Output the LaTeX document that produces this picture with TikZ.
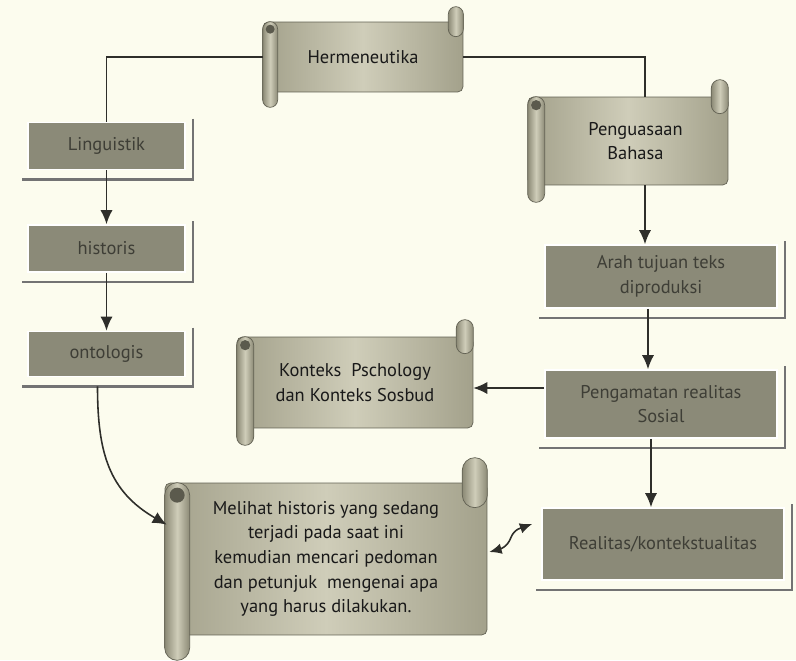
\documentclass[tikz,border=0pt]{standalone}
\usepackage{fontspec}
\setmainfont{PT Sans}
\usetikzlibrary{calc,arrows.meta}

\definecolor{bgcol}{HTML}{FCFCEE}
\definecolor{boxgray}{HTML}{8B8A78}
\definecolor{boxtext}{HTML}{3E3E36}
\definecolor{scrollmid}{HTML}{CFCDB9}
\definecolor{scrolledge}{HTML}{A3A18B}
\definecolor{rollcol}{HTML}{8C8A76}
\definecolor{linecol}{HTML}{2E2E2A}

\tikzset{
  boxnode/.style={rectangle, fill=boxgray, draw=white, line width=1pt, text=boxtext,
    align=center, font=\fontsize{10.5}{14}\selectfont},
  scrollnode/.style={rectangle, rounded corners=3pt, draw=scrolledge!60!black,
    left color=scrolledge, right color=scrolledge, middle color=scrollmid,
    text=black!90, align=center, font=\fontsize{10.5}{14}\selectfont},
  rollfill/.style={draw=scrolledge!60!black, left color=rollcol,
    right color=rollcol, middle color=scrollmid},
  shadeline/.style={draw=black!55, line width=1.3pt},
  conn/.style={linecol, line width=0.9pt},
  arr/.style={conn, -{Latex[length=8pt,width=7pt]}},
  dblarr/.style={conn, {Latex[length=7pt,width=6pt]}-{Latex[length=7pt,width=6pt]}}
}

% rolled ends of a scroll node: #1 node name, #2 roll width
\newcommand{\scrollrolls}[2]{%
  \path[rollfill, rounded corners={#2*0.01cm}] ($(#1.north east)+(-#2,-#2)$) rectangle ($(#1.north east)+(0,#2)$);
  \path[rollfill, rounded corners={#2*0.01cm}] (#1.north west) rectangle ($(#1.south west)+(#2,#2)$);
  \fill[rollcol!65!black] ($(#1.north west)+(#2/2,#2/2)$) circle ({#2*0.006cm});
}
% shadow frame of a box node
\newcommand{\boxshade}[1]{%
  \draw[shadeline] ($(#1.north east)+(7,-3)$) |- ($(#1.south west)+(-5,9)$);
}

\begin{document}
\begin{tikzpicture}[x=0.02cm,y=-0.02cm]
  \fill[bgcol] (0,0) rectangle (796,660);

  % scrolls
  \node[scrollnode, minimum width=4cm, minimum height=1.4cm] (herm) at (363,57) {Hermeneutika};
  \scrollrolls{herm}{15}
  \node[scrollnode, minimum width=4cm, minimum height=1.76cm] (pengua) at (628,141) {\hspace{0.3cm}Penguasaan\\\hspace{0.3cm}Bahasa};
  \scrollrolls{pengua}{17}
  \node[scrollnode, minimum width=4.72cm, minimum height=1.82cm] (kont) at (355,382.5) {Konteks\ \ Pschology\\dan Konteks Sosbud};
  \scrollrolls{kont}{17}
  \node[scrollnode, minimum width=6.44cm, minimum height=3.04cm] (meli) at (326,559)
    {Melihat historis yang sedang\\terjadi pada saat ini\\kemudian mencari pedoman\\dan petunjuk\ \ mengenai apa\\yang harus dilakukan.};
  \scrollrolls{meli}{25}

  % boxes
  \node[boxnode, minimum width=3.14cm, minimum height=0.94cm] (ling) at (106.5,146) {Linguistik};
  \node[boxnode, minimum width=3.14cm, minimum height=0.94cm] (hist) at (106.5,248.5) {historis};
  \node[boxnode, minimum width=3.14cm, minimum height=0.9cm] (onto) at (106.5,354) {ontologis};
  \node[boxnode, minimum width=4.64cm, minimum height=1.26cm] (arah) at (661,276.5) {Arah tujuan teks\\diproduksi};
  \node[boxnode, minimum width=4.64cm, minimum height=1.36cm] (peng) at (661,404) {Pengamatan realitas\\Sosial};
  \node[boxnode, minimum width=4.84cm, minimum height=1.44cm] (real) at (663,544) {Realitas/kontekstualitas};
  \boxshade{ling}
  \boxshade{hist}
  \boxshade{onto}
  \boxshade{arah}
  \boxshade{peng}
  \boxshade{real}

  % connectors
  \draw[conn] (herm.west) -| (ling.north);
  \draw[conn] (herm.east) -| ([xshift=0.34cm]pengua.north);
  \draw[arr] (ling) -- (hist);
  \draw[arr] (hist) -- (onto);
  \draw[arr] ($(onto.south)+(-9,9)$) to[out=-90, in=150, looseness=1.1] ($(meli.north west)+(2,42)$);
  \draw[arr] ([xshift=0.34cm]pengua.south) -- ([xshift=0.34cm]pengua.south |- arah.north);
  \draw[arr] ([xshift=-0.26cm]arah.south) -- ([xshift=-0.26cm]arah.south |- peng.north);
  \draw[arr] ([xshift=-0.2cm]peng.south) -- ([xshift=-0.2cm]peng.south |- real.north);
  \coordinate (pk) at ($(peng.west)+(0,-16)$);
  \draw[arr] (pk) -- (pk -| kont.east);
  \coordinate (wa) at ($(meli.east)+(2,-7)$);
  \coordinate (wb) at ($(real.west)+(-9,-20)$);
  \coordinate (wm) at ($(wa)!0.5!(wb)$);
  \draw[dblarr] (wa) to[out=15, in=-110] (wm) to[out=70, in=200] (wb);
\end{tikzpicture}
\end{document}
